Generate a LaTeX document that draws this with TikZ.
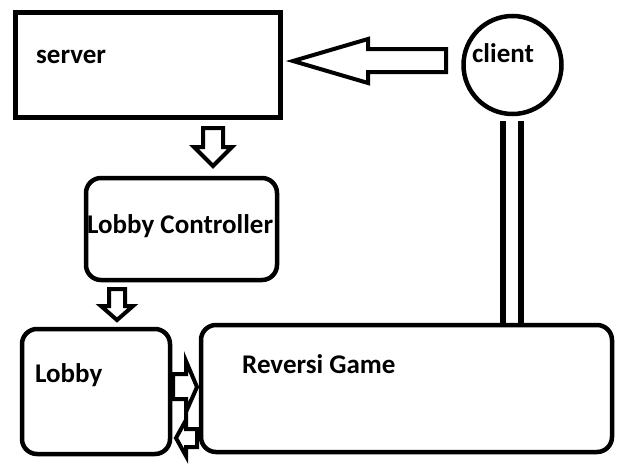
\documentclass[tikz,border=0pt]{standalone}
\usepackage{fontspec}
\setmainfont{Carlito}
\begin{document}
\begin{tikzpicture}[x=1pt,y=-1pt,
  sqbox/.style={draw=black, line width=5pt, inner sep=0pt, outer sep=0pt, fill=none},
  rbox/.style={draw=black, line width=4.5pt, rounded corners=15pt, inner sep=0pt, outer sep=0pt},
  circ/.style={draw=black, line width=4.5pt, circle, inner sep=0pt, outer sep=0pt},
  lbl/.style={anchor=base west, inner sep=0pt, font=\fontsize{27}{30}\selectfont\bfseries},
  blockarrow/.style={draw=black, line width=4pt, line join=miter, fill=white},
  link/.style={draw=black, line width=5.5pt}]
\useasboundingbox (0,0) rectangle (631,469);
% boxes
\node[sqbox, minimum width=265pt, minimum height=105pt] (server) at (147.5,64.5) {};
\node[rbox, minimum width=191pt, minimum height=102pt] (lc) at (181.5,229) {};
\node[rbox, minimum width=148pt, minimum height=125pt] (lobby) at (96,391.5) {};
\node[rbox, minimum width=411pt, minimum height=127pt] (game) at (406.5,388.5) {};
\node[circ, minimum size=98pt] (client) at (512.5,65) {};
% labels
\node[lbl] (tserver) at (36,63) {server};
\node[lbl] (tclient) at (472,62) {client};
\node[lbl] (tlc) at (87,233) {Lobby Controller};
\node[lbl] (tlobby) at (35,382) {Lobby};
\node[lbl] (tgame) at (242,373) {Reversi Game};
% block arrows
\draw[blockarrow] (293,61) -- (368,39) -- (368,49) -- (446,49) -- (446,72) -- (368,72) -- (368,83) -- cycle;
\draw[blockarrow] (203,128) -- (223,128) -- (223,147) -- (232,147) -- (213,166) -- (194,147) -- (203,147) -- cycle;
\draw[blockarrow] (109,289) -- (125,289) -- (125,306) -- (133,306) -- (117,320) -- (101,306) -- (109,306) -- cycle;
\draw[blockarrow] (173,374) -- (186,374) -- (186,361) -- (197,387) -- (186,412) -- (186,399) -- (173,399) -- cycle;
\draw[blockarrow] (197,429) -- (186,429) -- (186,420) -- (176,438) -- (186,456) -- (186,447) -- (197,447) -- cycle;
% double link client -- game
\coordinate (c1) at (503,0);
\coordinate (c2) at (521,0);
\draw[link, shorten <=7pt] (client.south -| c1) -- (game.north -| c1);
\draw[link, shorten <=7pt] (client.south -| c2) -- (game.north -| c2);
\end{tikzpicture}
\end{document}
